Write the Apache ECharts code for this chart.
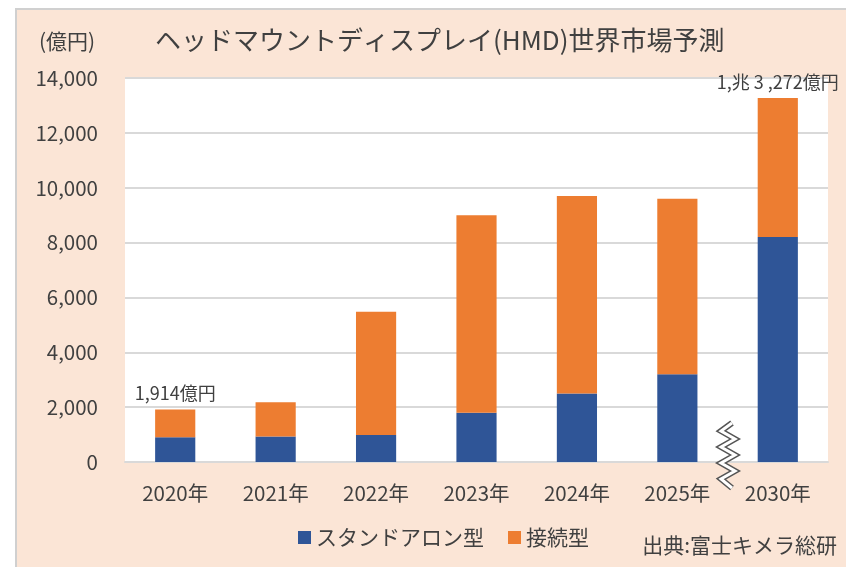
<!DOCTYPE html>
<html>
<head>
<meta charset="utf-8">
<script src="https://cdn.jsdelivr.net/npm/echarts@6/dist/echarts.min.js"></script>
<style>
  html, body { margin: 0; padding: 0; background: #fff; }
  #chart { width: 846px; height: 567px; }
</style>
</head>
<body>
<div id="chart"></div>
<script>
// 年次カテゴリ
const categories = ['2020年', '2021年', '2022年', '2023年', '2024年', '2025年', '2030年']
// スタンドアロン型 (億円)
const standalone = [900, 930, 980, 1800, 2500, 3200, 8200]
// 接続型 (億円)
const connected = [1014, 1250, 4500, 7200, 7200, 6400, 5072]
// 合計ラベル
const totalLabels = ['1,914億円', '', '', '', '', '', '1,兆 3 ,272億円']
// y軸
const yMin = 0
const yMax = 14000
const yStep = 2000

const font = '"Noto Sans CJK JP", "Noto Sans", sans-serif'
const textColor = '#404040'

const chart = echarts.init(document.getElementById('chart'))

// 省略記号 (波線)
const breakPoints = [[732, 423], [721, 431], [735, 439], [721, 447], [735, 455], [721, 463], [735, 471], [721, 479], [732, 488]]

const option = {
  backgroundColor: '#fff',
  animation: false,
  textStyle: { fontFamily: font },
  graphic: [
    {
      type: 'rect',
      z: -10,
      shape: { x: 16, y: 9, width: 900, height: 600 },
      style: { fill: '#FBE5D6', stroke: '#D0D0D0', lineWidth: 2 }
    },
    {
      type: 'text',
      left: 39,
      top: 31,
      style: { text: '(億円)', fill: textColor, font: '21px ' + font }
    },
    {
      type: 'text',
      left: 155,
      top: 27,
      style: { text: 'ヘッドマウントディスプレイ(HMD)世界市場予測', fill: textColor, font: '26px ' + font }
    },
    {
      type: 'text',
      right: 9,
      top: 535,
      style: { text: '出典:富士キメラ総研', fill: textColor, font: '21px ' + font }
    },
    {
      type: 'polyline',
      z: 100,
      shape: { points: breakPoints },
      style: { stroke: '#555', lineWidth: 6, fill: null }
    },
    {
      type: 'polyline',
      z: 101,
      shape: { points: breakPoints },
      style: { stroke: '#fff', lineWidth: 3, fill: null }
    }
  ],
  legend: {
    data: ['スタンドアロン型', '接続型'],
    left: 293,
    top: 522,
    itemWidth: 13,
    itemHeight: 13,
    itemGap: 24,
    icon: 'rect',
    textStyle: { color: textColor, fontSize: 21, fontFamily: font }
  },
  grid: {
    left: 125,
    right: 18,
    top: 78,
    bottom: 105,
    backgroundColor: '#fff',
    show: true,
    borderWidth: 0
  },
  xAxis: {
    type: 'category',
    data: categories,
    axisTick: { show: false },
    axisLine: { lineStyle: { color: '#D9D9D9', width: 2 } },
    axisLabel: { color: textColor, fontSize: 20.5, fontFamily: font, margin: 21, interval: 0 }
  },
  yAxis: {
    type: 'value',
    min: yMin,
    max: yMax,
    interval: yStep,
    axisLine: { show: false },
    axisTick: { show: false },
    splitLine: { lineStyle: { color: '#D9D9D9', width: 2 } },
    axisLabel: {
      color: textColor,
      fontSize: 20.5,
      fontFamily: font,
      margin: 27,
      formatter: v => v.toLocaleString('en-US')
    }
  },
  series: [
    {
      name: 'スタンドアロン型',
      type: 'bar',
      stack: 'total',
      barWidth: '40%',
      itemStyle: { color: '#2F5597' },
      data: standalone
    },
    {
      name: '接続型',
      type: 'bar',
      stack: 'total',
      barWidth: '40%',
      itemStyle: { color: '#ED7D31' },
      label: {
        show: true,
        position: 'top',
        distance: 7,
        color: textColor,
        fontSize: 18,
        fontFamily: font,
        formatter: p => totalLabels[p.dataIndex]
      },
      data: connected
    }
  ]
}

chart.setOption(option)
</script>
</body>
</html>
